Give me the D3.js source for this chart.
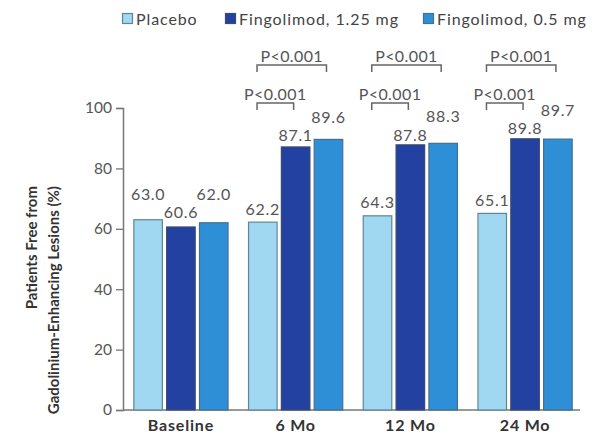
<!DOCTYPE html>
<html><head><meta charset="utf-8">
<script src="https://cdn.jsdelivr.net/npm/d3@7"></script>
<style>body{margin:0;background:#fff;} svg{display:block;font-family:Lato,"Open Sans",sans-serif;}</style>
</head><body>
<svg id="c" width="597" height="440"></svg>
<script>
// ---- data ----
const categories = ["Baseline", "6 Mo", "12 Mo", "24 Mo"];
const seriesNames = ["Placebo", "Fingolimod, 1.25 mg", "Fingolimod, 0.5 mg"];
const placebo = [63.0, 62.2, 64.3, 65.1];
const fingo125 = [60.6, 87.1, 87.8, 89.8];
const fingo05 = [62.0, 89.6, 88.3, 89.7];
const yTicks = [0, 20, 40, 60, 80, 100];
const pLower = [null, "P<0.001", "P<0.001", "P<0.001"]; // placebo vs 1.25 mg
const pUpper = [null, "P<0.001", "P<0.001", "P<0.001"]; // placebo vs 0.5 mg

// ---- layout / style ----
const colors = ["#9fd8f0", "#2341a0", "#2e8fd6"];
const strokes = ["#5e8796", "#3a4a70", "#456f8c"];
// extra vertical gap between bar top and its value label (avoid overlaps)
const labelGap = [[18, 7, 21], [5, 4, 14], [6, 2, 19], [5, 3, 21]];

const svg = d3.select("#c");
const seriesVals = [placebo, fingo125, fingo05];
const rows = categories.map((c, i) => ({cat: c, vals: seriesVals.map(s => s[i])}));

const y = d3.scaleLinear().domain([0, 100]).range([410, 108]);
const x0 = d3.scaleBand().domain(categories).range([123, 583]).paddingInner(0.17).paddingOuter(0.09);
const x1 = d3.scaleBand().domain(d3.range(3)).range([0, x0.bandwidth()]).paddingInner(0.1);

// y axis
const yAxis = svg.append("g").attr("transform", "translate(123,0)")
  .call(d3.axisLeft(y).tickValues(yTicks).tickSize(7).tickPadding(4));
yAxis.select(".domain").attr("stroke", "#777").attr("stroke-width", 1.5);
yAxis.selectAll(".tick line").attr("stroke", "#777").attr("stroke-width", 1.3);
yAxis.selectAll(".tick text").attr("fill", "#555").attr("font-size", 15.5).attr("font-family", "Lato");

// x axis
const xAxis = svg.append("g").attr("transform", "translate(0,410)")
  .call(d3.axisBottom(x0).tickSize(0).tickPadding(10));
xAxis.select(".domain").attr("stroke", "#777").attr("stroke-width", 1.5).attr("d", "M123,0H580");
xAxis.selectAll(".tick text").attr("fill", "#333").attr("font-size", 16).attr("font-weight", "bold")
  .attr("font-family", "Lato").attr("letter-spacing", 0.8);

// bars
const g = svg.append("g").selectAll("g").data(rows).join("g")
  .attr("transform", d => `translate(${x0(d.cat)},0)`);
g.selectAll("rect").data(d => d.vals.map((v, k) => ({v, k}))).join("rect")
  .attr("x", d => x1(d.k) + 0.5).attr("width", x1.bandwidth() - 1)
  .attr("y", d => y(d.v)).attr("height", d => y(0) - y(d.v))
  .attr("fill", d => colors[d.k]).attr("stroke", d => strokes[d.k]).attr("stroke-width", 1.2);

// value labels
g.each(function(d, i) {
  d3.select(this).selectAll("text.val").data(d.vals).join("text").attr("class", "val")
    .attr("x", (v, k) => x1(k) + x1.bandwidth() / 2)
    .attr("y", (v, k) => y(v) - labelGap[i][k] - 2)
    .attr("text-anchor", "middle").attr("fill", "#555").attr("font-size", 16).attr("letter-spacing", 0.7)
    .text(v => v.toFixed(1));
});

// significance brackets
function bracket(i, k, text, lineY, tick) {
  const gx = x0(categories[i]);
  const xl = gx + x1(0) + 9;
  const xr = gx + x1(k) + x1.bandwidth() / 2 - 2;
  svg.append("path").attr("d", `M${xl},${lineY + tick}V${lineY}H${xr}V${lineY + tick}`)
    .attr("fill", "none").attr("stroke", "#666").attr("stroke-width", 1.5);
  svg.append("text").attr("x", (xl + xr) / 2).attr("y", lineY - 3)
    .attr("text-anchor", "middle").attr("fill", "#555").attr("font-size", 16).attr("letter-spacing", 0.4).text(text);
}
categories.forEach((c, i) => {
  if (pUpper[i]) bracket(i, 2, pUpper[i], 65, 7);
  if (pLower[i]) bracket(i, 1, pLower[i], 103, 7);
});

// legend
const legendX = [122, 225, 423];
const leg = svg.append("g").selectAll("g").data(seriesNames).join("g")
  .attr("transform", (d, k) => `translate(${legendX[k]},0)`);
leg.append("rect").attr("x", 0.5).attr("y", 13.5).attr("width", 10).attr("height", 10)
  .attr("fill", (d, k) => colors[k]).attr("stroke", (d, k) => strokes[k]).attr("stroke-width", 1.2);
leg.append("text").attr("x", 14).attr("y", 25).attr("fill", "#444").attr("font-size", 16)
  .attr("letter-spacing", 0.9).text(d => d);

// y title
const yt = svg.append("text").attr("transform", "rotate(-90)").attr("text-anchor", "end")
  .attr("font-weight", "bold").attr("font-size", 15).attr("fill", "#333");
yt.append("tspan").attr("x", -186).attr("y", 37).text("Patients Free from");
yt.append("tspan").attr("x", -186).attr("y", 59).text("Gadolinium-Enhancing Lesions (%)");
</script>
</body></html>
